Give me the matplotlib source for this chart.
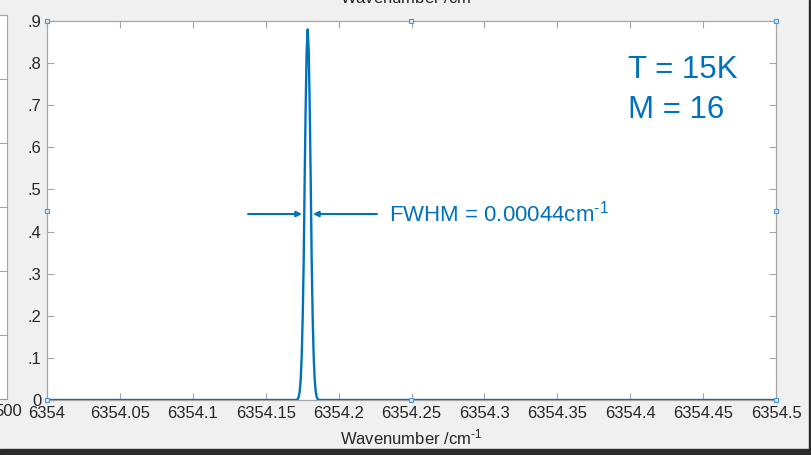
import matplotlib
matplotlib.use("Agg")
import matplotlib.pyplot as plt
from matplotlib.patches import Rectangle

plt.rcParams['font.family'] = ['Liberation Sans', 'DejaVu Sans']
plt.rcParams['mathtext.fontset'] = 'custom'
plt.rcParams['mathtext.rm'] = 'Liberation Sans'
plt.rcParams['mathtext.default'] = 'regular'

# ---- data ----
wavenumber = [6354.0, 6354.1713, 6354.1719, 6354.1726, 6354.1733, 6354.1740,
              6354.1747, 6354.1754, 6354.1761, 6354.1767, 6354.1774, 6354.1781,
              6354.1788, 6354.1795, 6354.1802, 6354.1809, 6354.1815, 6354.1822,
              6354.1829, 6354.1836, 6354.1843, 6354.1850, 6354.1857, 6354.1863,
              6354.5]
intensity = [0.0, 0.0, 0.002, 0.007, 0.020, 0.048,
             0.104, 0.199, 0.340, 0.515, 0.694, 0.829,
             0.880, 0.829, 0.694, 0.515, 0.340, 0.199,
             0.104, 0.048, 0.020, 0.007, 0.002, 0.0,
             0.0]
x_ticks = [6354.0, 6354.05, 6354.1, 6354.15, 6354.2, 6354.25,
           6354.3, 6354.35, 6354.4, 6354.45, 6354.5]
x_tick_labels = ['6354', '6354.05', '6354.1', '6354.15', '6354.2', '6354.25',
                 '6354.3', '6354.35', '6354.4', '6354.45', '6354.5']
y_ticks = [0, 0.1, 0.2, 0.3, 0.4, 0.5, 0.6, 0.7, 0.8, 0.9]
y_tick_labels = ['0', '.1', '.2', '.3', '.4', '.5', '.6', '.7', '.8', '.9']
fwhm_left_x = 6354.1749
fwhm_right_x = 6354.1824
fwhm_level = 0.4417

W, H = 812, 455
BLUE = '#0072BD'
AXC = '#a6a6a6'
TXT = '#262626'
SUP = '$^{\u2010' + '1}$'

fig = plt.figure(figsize=(W / 100, H / 100), dpi=100)
fig.patch.set_facecolor('#f0f0f0')

# ghost neighbouring axes at the far left
gax = fig.add_axes([-100 / W, (H - 399) / H, 107 / W, 384 / H])
gax.set_xlim(0, 1)
gax.set_ylim(0, 6)
gax.set_xticks([])
gax.set_yticks([0, 1, 2, 3, 4, 5, 6])
gax.yaxis.tick_right()
gax.tick_params(axis='y', direction='in', length=7, color=AXC, labelright=False)
for s in ['top', 'right', 'left']:
    gax.spines[s].set_color(AXC)
gax.spines['bottom'].set_color('#8c8cf0')
fig.text(22 / W, 1 - 411 / H, '500', ha='right', va='center', fontsize=12, color=TXT)

# main axes
ax = fig.add_axes([47 / W, (H - 400) / H, 729 / W, 379 / H])
ax.plot(wavenumber, intensity, color=BLUE, lw=1.7, zorder=3)
ax.set_xlim(6354.0, 6354.5)
ax.set_ylim(0, 0.9)
ax.set_xticks(x_ticks)
ax.set_xticklabels(x_tick_labels)
ax.set_yticks(y_ticks)
ax.set_yticklabels(y_tick_labels)
ax.tick_params(direction='in', length=5, color=AXC, labelcolor=TXT, labelsize=12,
               top=True, right=True, width=0.8)
ax.tick_params(axis='x', pad=4)
ax.tick_params(axis='y', pad=4)
for s in ax.spines.values():
    s.set_color(AXC)
    s.set_linewidth(0.9)
ax.set_xlabel('Wavenumber /cm' + SUP, fontsize=12, color=TXT, labelpad=5)

# clipped title at the top edge
fig.text((47 + 729 / 2) / W, 1 - 3 / H, 'Wavenumber /cm' + SUP, ha='center',
         va='baseline', fontsize=12, color=TXT)

# annotations
ax.text(6354.3985, 0.765, 'T = 15K', fontsize=22.5, color=BLUE)
ax.text(6354.3985, 0.670, 'M = 16', fontsize=22.5, color=BLUE)
ax.text(6354.2346, 0.4227, 'FWHM = 0.00044cm' + SUP, fontsize=16, color=BLUE)
arrow = dict(arrowstyle='-|>', color=BLUE, lw=1.5, mutation_scale=8,
             shrinkA=0, shrinkB=0)
ax.annotate('', xy=(fwhm_left_x, fwhm_level), xytext=(6354.1379, fwhm_level),
            arrowprops=arrow)
ax.annotate('', xy=(fwhm_right_x, fwhm_level), xytext=(6354.2263, fwhm_level),
            arrowprops=arrow)

# selection handles
ax.plot([0, 0.5, 1, 1, 1, 0.5, 0, 0], [0, 0, 0, 0.5, 1, 1, 1, 0.5],
        transform=ax.transAxes, ls='none', marker='s', ms=3.5,
        mfc='#d6e8f7', mec='#4a97d8', mew=0.8, clip_on=False, zorder=6)

# dark window borders
fig.patches.append(Rectangle((809 / W, 0), 3 / W, 1, transform=fig.transFigure,
                             color='#2b2b2b', zorder=10))
fig.patches.append(Rectangle((0, 0), 1, 6 / H, transform=fig.transFigure,
                             color='#2b2b2b', zorder=10))

fig.savefig('out.png', dpi=100, facecolor=fig.get_facecolor())
